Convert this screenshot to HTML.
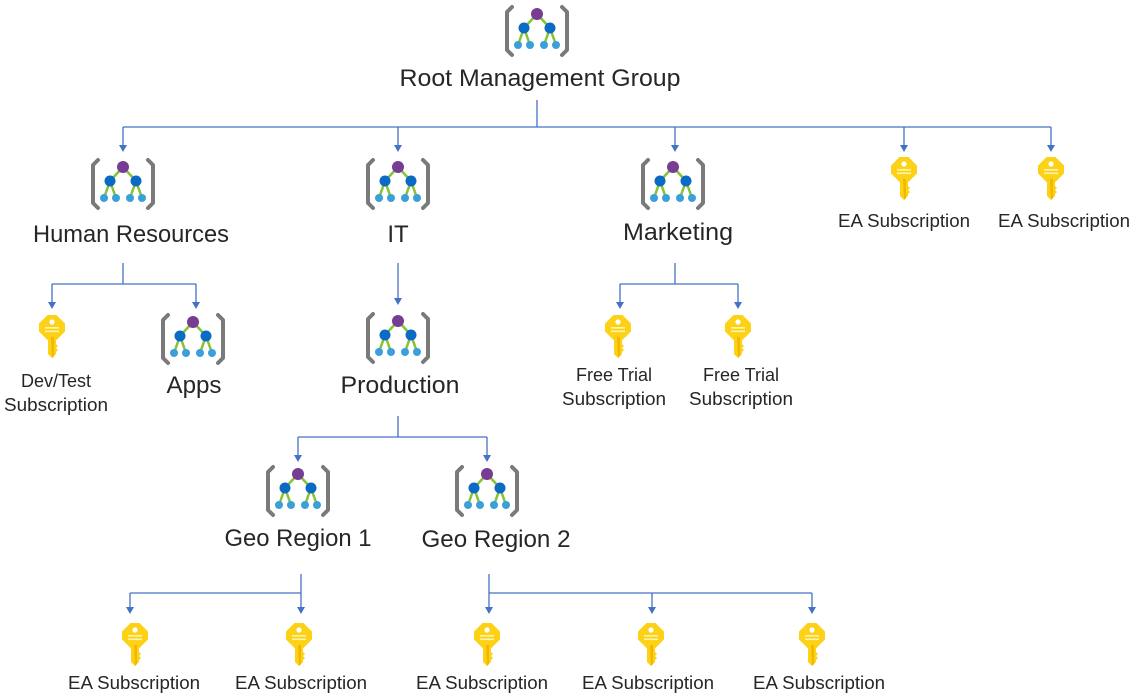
<!DOCTYPE html>
<html><head><meta charset="utf-8"><style>
html,body{margin:0;padding:0;background:#fff;}
svg{display:block;}
text{font-family:"Liberation Sans",sans-serif;fill:#262626;}
</style></head><body>
<svg width="1135" height="699" viewBox="0 0 1135 699" xmlns="http://www.w3.org/2000/svg">
<defs>
<g id="mg">
<path d="M-25,2 L-30,7 V45 L-25,50 M25,2 L30,7 V45 L25,50" fill="none" stroke="#7a7a7a" stroke-width="4" stroke-linecap="round" stroke-linejoin="round"/>
<path d="M0,9 L-13,23 M0,9 L13,23 M-13,23 L-19,40 M-13,23 L-7,40 M13,23 L7,40 M13,23 L19,40" stroke="#86c232" stroke-width="2.5" fill="none"/>
<circle cx="0" cy="9" r="6" fill="#773c94"/>
<circle cx="-13" cy="23" r="5.5" fill="#0a6ac4"/>
<circle cx="13" cy="23" r="5.5" fill="#0a6ac4"/>
<circle cx="-19" cy="40" r="4" fill="#3ba0da"/>
<circle cx="-7" cy="40" r="4" fill="#3ba0da"/>
<circle cx="7" cy="40" r="4" fill="#3ba0da"/>
<circle cx="19" cy="40" r="4" fill="#3ba0da"/>
</g>
<g id="key">
<path d="M-4,0 H4 L12,8 V15 L4,23 H-4 L-12,15 V8 Z" fill="#fcd116" stroke="#fcd116" stroke-width="2" stroke-linejoin="round"/>
<path d="M-4,21 H4 V28 L6,30 L4,32 L6,34 L4,36 V38 L0,42 L-4,38 Z" fill="#fcd116"/>
<path d="M-1,21 H2 V40 L0,42 Z" fill="#f2b800"/>
<circle cx="0" cy="6" r="2.6" fill="#fff"/>
<rect x="-7" y="11" width="14" height="1.6" fill="#fff3b0"/>
<rect x="-7" y="14.5" width="14" height="1.6" fill="#fff3b0"/>
</g>
<marker id="ar" markerWidth="8" markerHeight="8" refX="4" refY="6" orient="auto-start-reverse" markerUnits="userSpaceOnUse" viewBox="0 0 8 8">
<path d="M0,0 L8,0 L4,7 Z" fill="#4472c4" transform="rotate(-90 4 4)"/>
</marker>
</defs>
<g stroke="#4472c4" stroke-width="1.3" fill="none">
<path d="M537,100 V127 M123,127 H1051"/>
<path d="M123,127 V150 M398,127 V150 M675,127 V150 M904,127 V150 M1051,127 V150"/>
<path d="M123,263 V284 M52,284 H196 M52,284 V307 M196,284 V307"/>
<path d="M398,263 V303"/>
<path d="M398,416 V437 M298,437 H487 M298,437 V460 M487,437 V460"/>
<path d="M675,263 V284 M620,284 H738 M620,284 V307 M738,284 V307"/>
<path d="M301,574 V612 M130,593 H301 M130,593 V612"/>
<path d="M489,574 V612 M489,593 H812 M652,593 V612 M812,593 V612"/>
</g>
<g fill="#4472c4">
<path d="M119,145 h8 l-4,7z M394,145 h8 l-4,7z M671,145 h8 l-4,7z M900,145 h8 l-4,7z M1047,145 h8 l-4,7z"/>
<path d="M48,302 h8 l-4,7z M192,302 h8 l-4,7z M394,298 h8 l-4,7z M616,302 h8 l-4,7z M734,302 h8 l-4,7z"/>
<path d="M294,455 h8 l-4,7z M483,455 h8 l-4,7z"/>
<path d="M126,607 h8 l-4,7z M297,607 h8 l-4,7z M485,607 h8 l-4,7z M648,607 h8 l-4,7z M808,607 h8 l-4,7z"/>
</g>
<use href="#mg" x="537" y="5"/>
<use href="#mg" x="123" y="158"/>
<use href="#mg" x="398" y="158"/>
<use href="#mg" x="673" y="158"/>
<use href="#mg" x="193" y="313"/>
<use href="#mg" x="398" y="312"/>
<use href="#mg" x="298" y="465"/>
<use href="#mg" x="487" y="465"/>
<use href="#key" x="904" y="158"/>
<use href="#key" x="1051" y="158"/>
<use href="#key" x="52" y="316"/>
<use href="#key" x="618" y="316"/>
<use href="#key" x="738" y="316"/>
<use href="#key" x="135" y="624"/>
<use href="#key" x="299" y="624"/>
<use href="#key" x="487" y="624"/>
<use href="#key" x="651" y="624"/>
<use href="#key" x="812" y="624"/>
<g font-size="24" text-anchor="middle">
<text x="540" y="86" textLength="281" lengthAdjust="spacingAndGlyphs">Root Management Group</text>
<text x="131" y="242" textLength="196" lengthAdjust="spacingAndGlyphs">Human Resources</text>
<text x="398" y="242">IT</text>
<text x="678" y="240" textLength="110" lengthAdjust="spacingAndGlyphs">Marketing</text>
<text x="194" y="393" textLength="55" lengthAdjust="spacingAndGlyphs">Apps</text>
<text x="400" y="393" textLength="119" lengthAdjust="spacingAndGlyphs">Production</text>
<text x="298" y="546" textLength="147" lengthAdjust="spacingAndGlyphs">Geo Region 1</text>
<text x="496" y="547" textLength="149" lengthAdjust="spacingAndGlyphs">Geo Region 2</text>
</g>
<g font-size="18" text-anchor="middle">
<text x="904" y="227" textLength="132" lengthAdjust="spacingAndGlyphs">EA Subscription</text>
<text x="1064" y="227" textLength="132" lengthAdjust="spacingAndGlyphs">EA Subscription</text>
<text x="56" y="387">Dev/Test</text>
<text x="56" y="411" textLength="104" lengthAdjust="spacingAndGlyphs">Subscription</text>
<text x="614" y="381">Free Trial</text>
<text x="614" y="405" textLength="104" lengthAdjust="spacingAndGlyphs">Subscription</text>
<text x="741" y="381">Free Trial</text>
<text x="741" y="405" textLength="104" lengthAdjust="spacingAndGlyphs">Subscription</text>
<text x="134" y="689" textLength="132" lengthAdjust="spacingAndGlyphs">EA Subscription</text>
<text x="301" y="689" textLength="132" lengthAdjust="spacingAndGlyphs">EA Subscription</text>
<text x="482" y="689" textLength="132" lengthAdjust="spacingAndGlyphs">EA Subscription</text>
<text x="648" y="689" textLength="132" lengthAdjust="spacingAndGlyphs">EA Subscription</text>
<text x="819" y="689" textLength="132" lengthAdjust="spacingAndGlyphs">EA Subscription</text>
</g>
</svg>
</body></html>
